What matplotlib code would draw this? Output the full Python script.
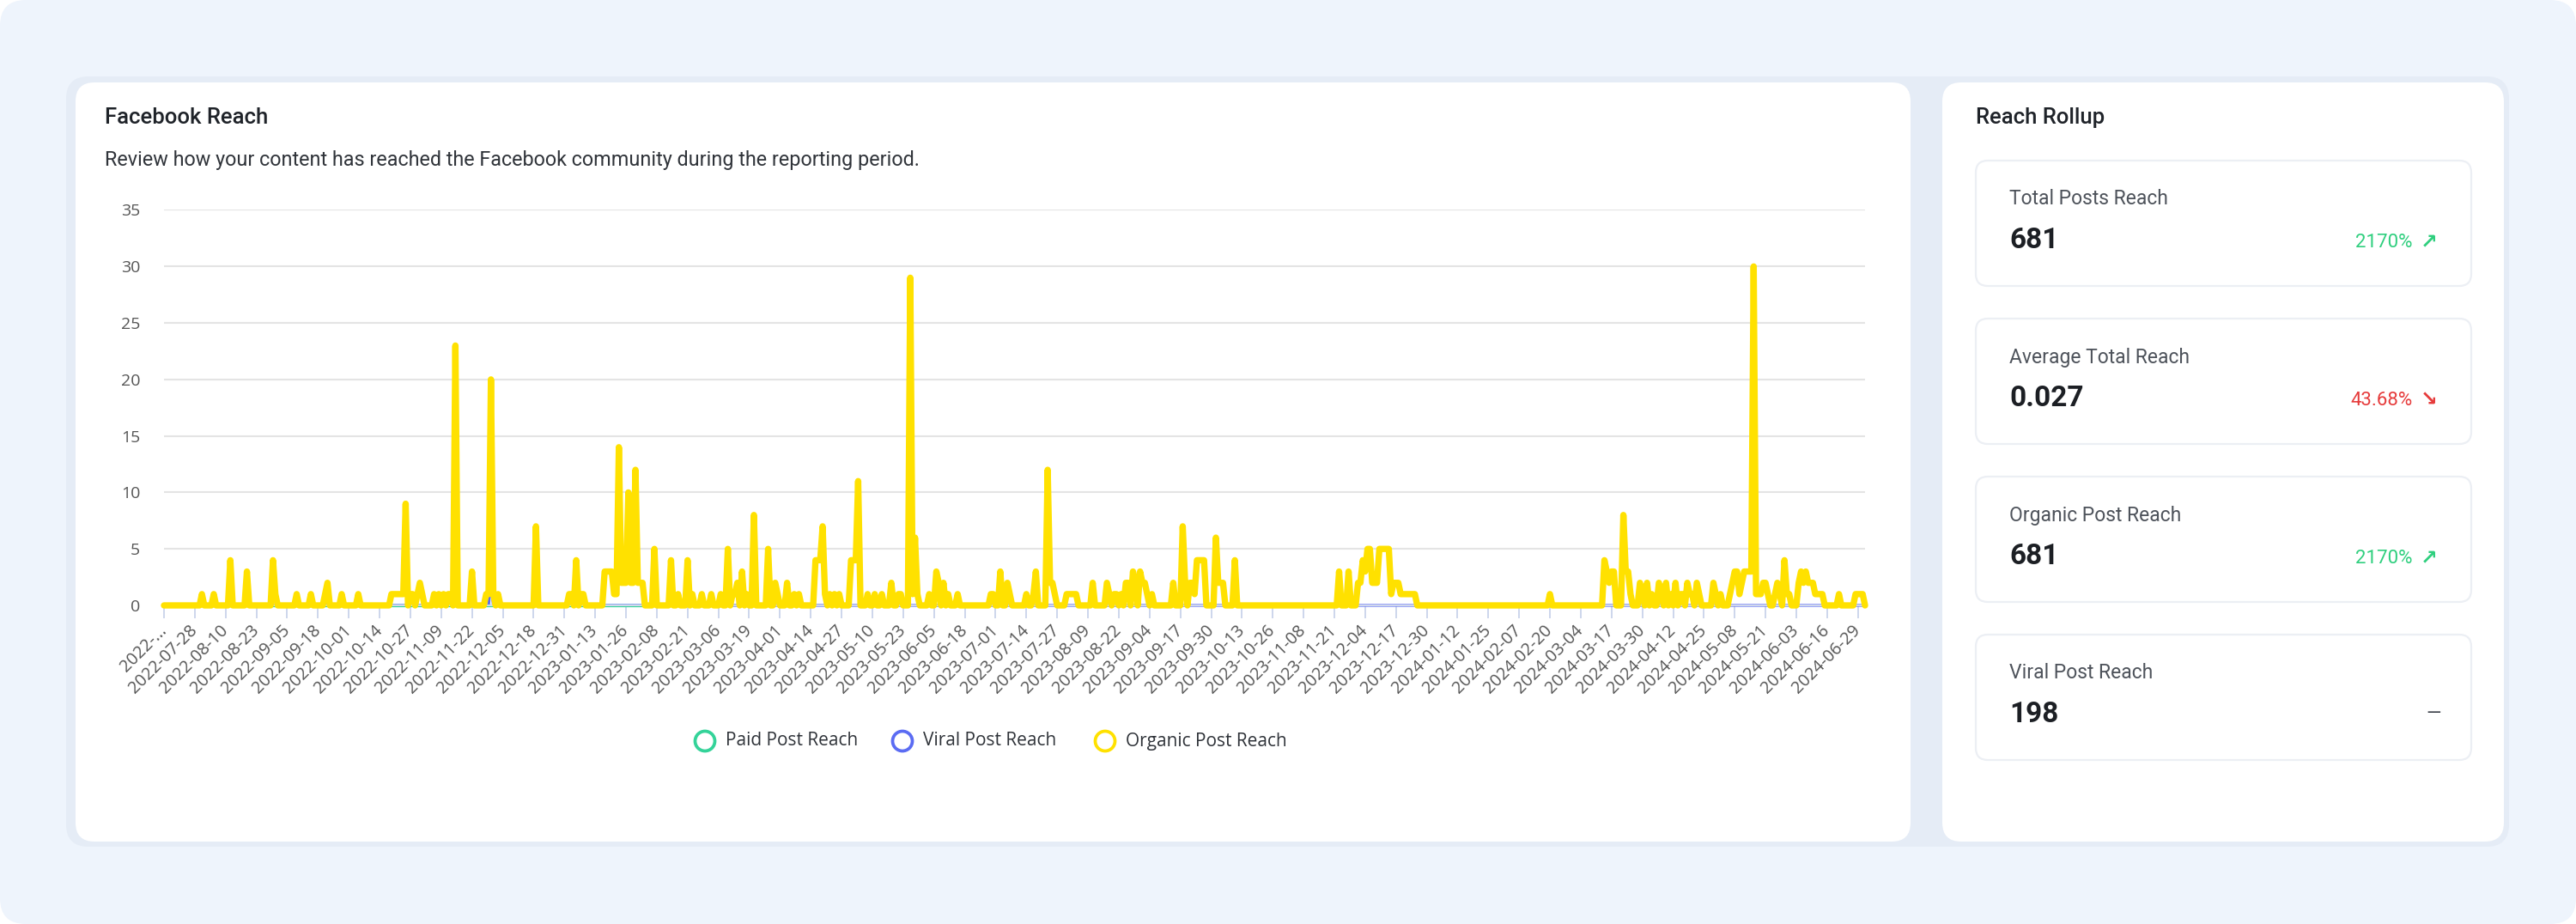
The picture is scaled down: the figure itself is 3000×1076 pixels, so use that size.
import numpy as np
import pandas as pd
import matplotlib
matplotlib.use("Agg")
import matplotlib.pyplot as plt
from matplotlib.patches import FancyBboxPatch, Circle

# ---- data ----
start_date = "2022-07-15"
n_days = 719

# organic post reach: day index -> value, every other day is 0
organic_days = [16, 21, 28, 35, 46, 47, 56, 62, 68, 69, 75, 82, 96, 97, 98, 99, 100, 101, 102, 104, 105,
                107, 108, 109, 114, 116, 118, 120, 121, 123,
                130, 136, 137, 138, 139, 141, 157, 171, 172, 174, 176, 177,
                186, 187, 188, 189, 190, 191, 192, 193, 194, 195, 196, 197, 198, 199, 200, 201, 202,
                207, 214, 217, 221, 223, 227, 231, 235, 238, 240,
                241, 242, 244, 246, 249, 255, 258, 259, 263, 266, 268, 275, 276, 277, 278, 279, 281, 283, 285,
                290, 291, 292, 293, 297, 300, 303, 307, 310, 311, 315, 316, 317, 318, 323, 326, 327, 329,
                331, 335, 349, 350, 353, 356, 357,
                364, 367, 368, 373, 374, 375, 376, 381, 382, 383, 384, 385, 392, 398, 399, 401, 402, 404,
                406, 407, 409, 410, 412, 413, 414, 415, 417, 426, 430, 431, 433, 434, 435, 436, 437, 438,
                439, 444, 445, 446, 447, 452,
                496, 500, 504, 505, 506, 507, 508, 509, 510, 511, 512, 513, 514, 515, 516, 517, 518, 519,
                520, 521, 522, 523, 524, 525, 526, 527, 528, 585,
                608, 609, 610, 611, 612, 616, 617, 618, 619, 623, 624, 626, 628, 631, 632, 634, 636, 638,
                640, 641, 643, 644, 645, 647, 648, 654, 655, 657,
                661, 662, 663, 664, 665, 666, 667, 668, 669, 670, 671, 672, 673, 674, 675, 676, 677,
                680, 681, 682, 684, 685, 686, 690, 691, 692, 693, 694, 695, 696, 697, 698, 699, 700,
                707, 714, 715, 716, 717]
organic_vals = [1, 1, 4, 3, 4, 1, 1, 1, 1, 2, 1, 1, 1, 1, 1, 1, 1, 1, 9, 1, 1,
                1, 2, 1, 1, 1, 1, 1, 1, 23,
                3, 1, 1, 20, 1, 1, 7, 1, 1, 4, 1, 1,
                3, 3, 3, 3, 1, 1, 14, 2, 2, 2, 10, 2, 2, 12, 2, 2, 2,
                5, 4, 1, 4, 1, 1, 1, 1, 5, 1,
                1, 2, 3, 1, 8, 5, 2, 1, 2, 1, 1, 4, 4, 4, 7, 1, 1, 1, 1,
                4, 4, 4, 11, 1, 1, 1, 2, 1, 1, 29, 1, 6, 1, 1, 3, 2, 2,
                1, 1, 1, 1, 3, 2, 1,
                1, 1, 3, 12, 2, 2, 1, 1, 1, 1, 1, 1, 2, 2, 1, 1, 1, 1,
                2, 2, 3, 2, 3, 2, 2, 1, 1, 2, 7, 2, 2, 2, 1, 4, 4, 4,
                4, 6, 2, 2, 2, 4,
                3, 3, 2, 2, 4, 3, 5, 5, 2, 2, 2, 5, 5, 5, 5, 5, 1, 2,
                2, 2, 1, 1, 1, 1, 1, 1, 1, 1,
                4, 3, 2, 3, 3, 8, 3, 3, 1, 2, 1, 2, 1, 2, 1, 2, 1, 2,
                1, 1, 2, 1, 1, 2, 1, 2, 1, 1,
                1, 2, 3, 3, 1, 2, 3, 3, 3, 3, 30, 1, 1, 1, 2, 2, 1,
                1, 2, 1, 4, 1, 1, 2, 3, 2, 3, 2, 2, 2, 1, 1, 1, 1,
                1, 1, 1, 1, 1]

# viral post reach: a few small bumps, 0 elsewhere
viral_days = [69, 138, 214, 221]
viral_vals = [1, 2, 1, 1]

# paid post reach only reported (as 0) for the first part of the period
paid_last_day = 205

series_names = ["Paid Post Reach", "Viral Post Reach", "Organic Post Reach"]
series_colors = ["#34D399", "#5B6CF3", "#FFE100"]

tick_step = 13
n_ticks = 56

card_labels = ["Total Posts Reach", "Average Total Reach", "Organic Post Reach", "Viral Post Reach"]
card_values = ["681", "0.027", "681", "198"]
card_changes = ["2170%", "43.68%", "2170%", ""]
card_arrows = ["\u2197", "\u2198", "\u2197", "\u2014"]
card_colors = ["#2FCF7E", "#E63B3B", "#2FCF7E", "#3A3F47"]

# ---- build series ----
days = np.arange(n_days)
organic = np.zeros(n_days)
organic[organic_days] = organic_vals
viral = np.zeros(n_days)
viral[viral_days] = viral_vals
paid = np.where(days <= paid_last_day, 0.0, np.nan)

tick_pos = np.arange(n_ticks) * tick_step
tick_labels = [d.strftime("%Y-%m-%d") for d in pd.date_range(start_date, periods=n_ticks, freq="13D")]
tick_labels[0] = "2022-..."

# ---- figure ----
W, H = 3000, 1076
fig = plt.figure(figsize=(W / 100, H / 100), dpi=100, facecolor="white")
bg = fig.add_axes([0, 0, 1, 1])
bg.set_xlim(0, W)
bg.set_ylim(H, 0)
bg.axis("off")

def rbox(x0, y0, x1, y1, r, fc, ec="none", lw=0):
    bg.add_patch(FancyBboxPatch((x0, y0), x1 - x0, y1 - y0,
                                boxstyle="round,pad=0,rounding_size=%d" % r,
                                fc=fc, ec=ec, lw=lw))

rbox(0, 0, W, H, 30, "#EEF4FC")
rbox(77, 89, 2922, 986, 26, "#E5ECF6")
rbox(88, 96, 2225, 980, 22, "white")
rbox(2262, 96, 2916, 980, 22, "white")

# left card text
bg.text(122, 137, "Facebook Reach", fontsize=18.5, family="Roboto", fontweight="medium",
        color="#1F2329", va="center")
bg.text(122, 187, "Review how your content has reached the Facebook community during the reporting period.",
        fontsize=16.8, family="Roboto", color="#30343A", va="center")

# ---- chart ----
x0, x1, y0, y1 = 191, 2172, 705, 244.5
ax = fig.add_axes([x0 / W, (H - y0) / H, (x1 - x0) / W, (y0 - y1) / H])
ax.set_facecolor("none")
ax.plot(days, viral, color=series_colors[1], lw=2.3, zorder=2, clip_on=False, solid_joinstyle="round")
ax.plot(days, paid, color=series_colors[0], lw=2.3, zorder=2.5, clip_on=False, solid_joinstyle="round")
ax.plot(days, organic, color=series_colors[2], lw=5.3, zorder=3, clip_on=False,
        solid_joinstyle="round", solid_capstyle="round")
ax.set_xlim(0, n_days - 1)
ax.set_ylim(0, 35)
ax.set_yticks(np.arange(0, 36, 5))
ax.yaxis.grid(True, color="#E4E4E4", lw=1.5)
ax.set_axisbelow(True)
for s in ["top", "right", "left"]:
    ax.spines[s].set_visible(False)
ax.spines["bottom"].set_color("#D3DAEC")
ax.spines["bottom"].set_linewidth(1.4)
ax.tick_params(axis="y", length=0, pad=20, labelsize=14, labelcolor="#555555")
ax.set_xticks(tick_pos)
ax.set_xticklabels(tick_labels, rotation=45, ha="right", va="center", rotation_mode="anchor")
ax.tick_params(axis="x", length=11, width=1.4, color="#CDD6EC", direction="out", pad=8,
               labelsize=14.3, labelcolor="#555555")
for lab in ax.get_xticklabels() + ax.get_yticklabels():
    lab.set_family("Open Sans")

# legend
leg_x = [821, 1051, 1287]
for lx, name, col in zip(leg_x, series_names, series_colors):
    bg.add_patch(Circle((lx, 863), 11.5, fc="white", ec=col, lw=2.7))
    bg.text(lx + 24, 863, name, fontsize=15, family="Open Sans", color="#2E3238", va="center")

# ---- right panel ----
bg.text(2301, 137, "Reach Rollup", fontsize=18.5, family="Roboto", fontweight="medium",
        color="#1F2329", va="center")
box_top = 187
for i in range(4):
    top = box_top + i * 184
    rbox(2301, top, 2878, top + 146, 14, "white", ec="#ECEFF4", lw=1.6)
    bg.text(2340, top + 45, card_labels[i], fontsize=16.5, family="Roboto", color="#4E535B", va="center")
    bg.text(2340, top + 93, card_values[i], fontsize=24, family="Roboto", fontweight="bold",
            color="#1C1F24", va="center")
    bg.text(2810, top + 95, card_changes[i], fontsize=16, family="Roboto",
            color=card_colors[i], va="center", ha="right")
    if card_changes[i]:
        bg.text(2829, top + 95, card_arrows[i], fontsize=17, family="DejaVu Sans", fontweight="bold",
                color=card_colors[i], va="center", ha="center")
    else:
        bg.text(2843, top + 92, card_arrows[i], fontsize=16, family="Roboto",
                color=card_colors[i], va="center", ha="right")

fig.savefig("out.png", dpi=100, facecolor=fig.get_facecolor())
